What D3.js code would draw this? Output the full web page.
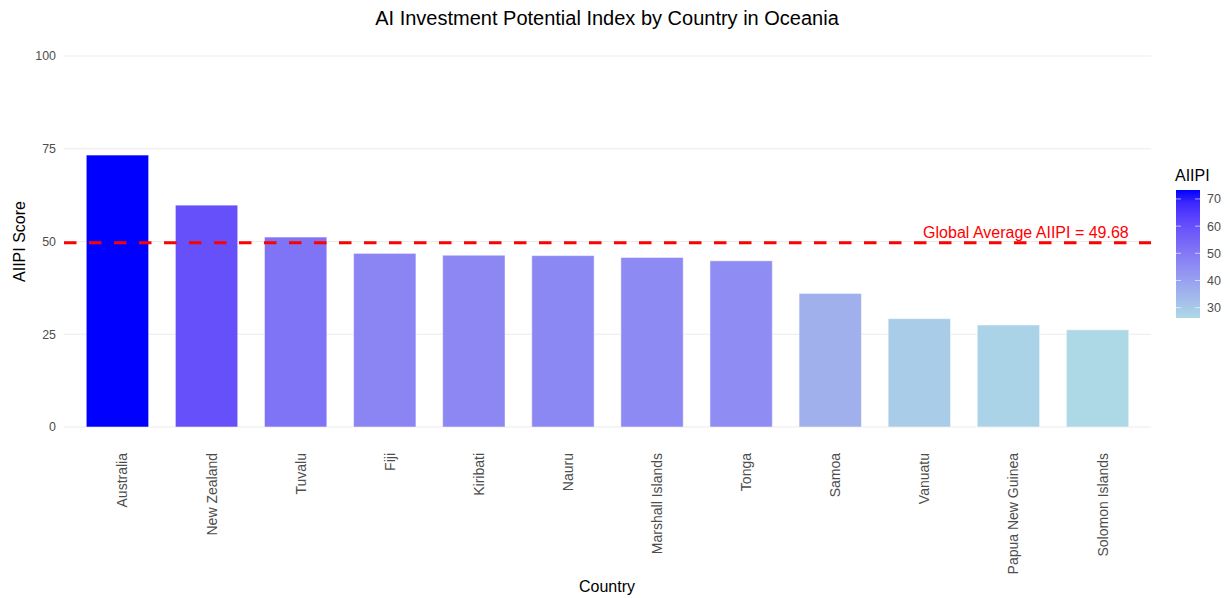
<!DOCTYPE html>
<html>
<head>
<meta charset="utf-8">
<script src="https://cdn.jsdelivr.net/npm/d3@7"></script>
<style>
  body { margin: 0; background: #fff; }
  text { font-family: "Liberation Sans", Arial, sans-serif; }
</style>
</head>
<body>
<svg width="1230" height="598"></svg>
<script>
var countries = ['Australia', 'New Zealand', 'Tuvalu', 'Fiji', 'Kiribati', 'Nauru',
                 'Marshall Islands', 'Tonga', 'Samoa', 'Vanuatu', 'Papua New Guinea', 'Solomon Islands'];
var scores = [73.3, 59.8, 51.2, 46.8, 46.3, 46.2, 45.7, 44.8, 36.0, 29.2, 27.5, 26.2];
var globalAvg = 49.68;
var yTicks = [0, 25, 50, 75, 100];
var legendTicks = [30, 40, 50, 60, 70];

var data = countries.map(function(c, i) { return { country: c, score: scores[i] }; });

var svg = d3.select('svg');
var margin = { top: 56, right: 80, bottom: 171, left: 64 };
var w = 1151 - margin.left;
var h = 427 - margin.top;

var g = svg.append('g')
    .attr('transform', 'translate(' + margin.left + ',' + margin.top + ')');

var x = d3.scaleBand()
    .domain(countries)
    .range([0, w])
    .paddingInner(0.3)
    .paddingOuter(0.25);

var y = d3.scaleLinear()
    .domain([0, 100])
    .range([h, 0]);

var extent = d3.extent(scores);
var color = d3.scaleLinear()
    .domain(extent)
    .range(['#ADD8E6', '#0000FF'])
    .interpolate(d3.interpolateLab);

// gridlines
g.selectAll('.grid')
    .data(yTicks)
    .enter()
    .append('line')
    .attr('class', 'grid')
    .attr('x1', 0)
    .attr('x2', w)
    .attr('y1', function(d) { return y(d); })
    .attr('y2', function(d) { return y(d); })
    .attr('stroke', '#ebebeb')
    .attr('stroke-width', 1.1);

// y axis labels
var yAxis = d3.axisLeft(y).tickValues(yTicks).tickSize(0).tickPadding(8);
g.append('g')
    .call(yAxis)
    .call(function(a) { a.select('.domain').remove(); })
    .selectAll('text')
    .style('font-size', '12.4px')
    .style('fill', '#4d4d4d');

// bars
g.selectAll('.bar')
    .data(data)
    .enter()
    .append('rect')
    .attr('class', 'bar')
    .attr('x', function(d) { return x(d.country); })
    .attr('y', function(d) { return y(d.score); })
    .attr('width', x.bandwidth())
    .attr('height', function(d) { return h - y(d.score); })
    .attr('fill', function(d) { return color(d.score); })
    .attr('stroke', 'rgba(255,255,255,0.5)')
    .attr('stroke-width', 1);

// average line
g.append('line')
    .attr('x1', 0)
    .attr('x2', w)
    .attr('y1', y(globalAvg))
    .attr('y2', y(globalAvg))
    .attr('stroke', '#ff0000')
    .attr('stroke-width', 3)
    .attr('stroke-dasharray', '12.5,12.5');

g.append('text')
    .attr('x', x('Solomon Islands') + x.bandwidth())
    .attr('y', y(globalAvg) - 5)
    .style('text-anchor', 'end')
    .style('fill', '#ff0000')
    .style('font-size', '16px')
    .text('Global Average AIIPI = ' + globalAvg.toFixed(2));

// x axis labels
var xAxis = d3.axisBottom(x).tickSize(0).tickPadding(0);
g.append('g')
    .attr('transform', 'translate(0,' + h + ')')
    .call(xAxis)
    .call(function(a) { a.select('.domain').remove(); })
    .selectAll('text')
    .attr('transform', 'rotate(-90)')
    .attr('x', -26)
    .attr('y', 0)
    .attr('dy', 10)
    .style('text-anchor', 'end')
    .style('font-size', '14px')
    .style('fill', '#4d4d4d');

// titles
svg.append('text')
    .attr('x', 607)
    .attr('y', 25)
    .style('text-anchor', 'middle')
    .style('font-size', '20px')
    .style('fill', '#000')
    .text('AI Investment Potential Index by Country in Oceania');

svg.append('text')
    .attr('x', 607)
    .attr('y', 592)
    .style('text-anchor', 'middle')
    .style('font-size', '16px')
    .style('fill', '#000')
    .text('Country');

svg.append('text')
    .attr('transform', 'translate(25,' + (margin.top + h / 2) + ') rotate(-90)')
    .style('text-anchor', 'middle')
    .style('font-size', '16px')
    .style('fill', '#000')
    .text('AIIPI Score');

// legend
var lx = 1176, lw = 24;
var ls = d3.scaleLinear().domain(extent).range([318, 190]);
var defs = svg.append('defs');
var grad = defs.append('linearGradient')
    .attr('id', 'grad')
    .attr('x1', 0).attr('x2', 0).attr('y1', 1).attr('y2', 0);
d3.range(0, 1.0001, 0.1).forEach(function(t) {
    grad.append('stop')
        .attr('offset', t)
        .attr('stop-color', color(extent[0] + t * (extent[1] - extent[0])));
});
svg.append('rect')
    .attr('x', lx)
    .attr('y', ls.range()[1])
    .attr('width', lw)
    .attr('height', ls.range()[0] - ls.range()[1])
    .attr('fill', 'url(#grad)');

var lg = svg.append('g');
legendTicks.forEach(function(t) {
    lg.append('line')
        .attr('x1', lx).attr('x2', lx + 5)
        .attr('y1', ls(t)).attr('y2', ls(t))
        .attr('stroke', '#fff').attr('stroke-opacity', 0.6);
    lg.append('line')
        .attr('x1', lx + lw - 5).attr('x2', lx + lw)
        .attr('y1', ls(t)).attr('y2', ls(t))
        .attr('stroke', '#fff').attr('stroke-opacity', 0.6);
    lg.append('text')
        .attr('x', lx + lw + 7)
        .attr('y', ls(t))
        .attr('dy', '0.35em')
        .style('font-size', '12.5px')
        .style('fill', '#4d4d4d')
        .text(t);
});
svg.append('text')
    .attr('x', lx - 1)
    .attr('y', 181)
    .style('font-size', '16px')
    .style('fill', '#000')
    .text('AIIPI');
</script>
</body>
</html>
